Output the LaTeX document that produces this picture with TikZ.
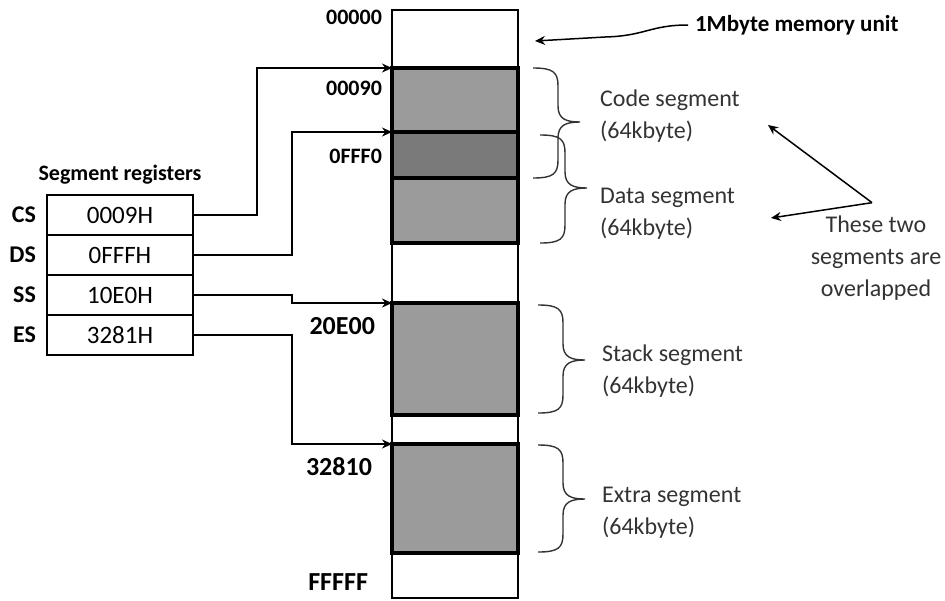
\documentclass[tikz,border=0pt]{standalone}
\usepackage{fontspec}
\setmainfont{Carlito}
\usetikzlibrary{positioning,arrows.meta}
\definecolor{seggray}{HTML}{9B9B9B}
\definecolor{ovlgray}{HTML}{7A7A7A}
\definecolor{txtgray}{HTML}{333333}

\begin{document}
\begin{tikzpicture}[x=0.5pt,y=-0.5pt,>={Stealth[length=5pt,width=4.5pt]},
  reg/.style={draw,line width=0.9pt,outer sep=0pt,minimum width=73pt,minimum height=20pt,inner sep=0pt,font=\fontsize{12.5}{14}\selectfont},
  regname/.style={font=\fontsize{12}{14}\selectfont\bfseries},
  addr/.style={anchor=east,font=\fontsize{11}{14}\selectfont\bfseries},
  segtext/.style={anchor=west,align=left,text=txtgray,font=\fontsize{12}{16}\selectfont},
  link/.style={->,line width=0.75pt}]
  \useasboundingbox (0,0) rectangle (945,600);

  % memory column
  \fill[seggray] (392,68) rectangle (518,243);
  \fill[ovlgray] (392,132) rectangle (518,178);
  \fill[seggray] (392,303) rectangle (518,415);
  \fill[seggray] (392,444) rectangle (518,553);
  \draw[line width=1pt] (392,10) rectangle (518,598);
  \draw[line width=1.6pt] (392,68) rectangle (518,243);
  \draw[line width=1.6pt] (392,303) rectangle (518,415);
  \draw[line width=1.6pt] (392,444) rectangle (518,553);
  \draw[line width=1.6pt] (392,132) -- (518,132) (392,178) -- (518,178);
  \coordinate (cstop) at (392,68);
  \coordinate (dstop) at (392,132);
  \coordinate (sstop) at (392,303);
  \coordinate (estop) at (392,444);
  \coordinate (memcol) at (535,41);

  % addresses
  \node[addr] (a0) at (389,17) {00000};
  \node[addr] (a1) at (389,88) {00090};
  \node[addr] (a2) at (389,156) {0FFF0};
  \node[addr,font=\fontsize{13}{14}\selectfont\bfseries] (a3) at (382,326) {20E00};
  \node[addr,font=\fontsize{13}{14}\selectfont\bfseries] (a4) at (379,467) {32810};
  \node[addr,font=\fontsize{13}{14}\selectfont\bfseries] (a5) at (375,582) {FFFFF};

  % segment registers
  \node[reg] (cs) at (120,215) {0009H};
  \node[reg,below=0pt of cs] (ds) {0FFFH};
  \node[reg,below=0pt of ds] (ss) {10E0H};
  \node[reg,below=0pt of ss] (es) {3281H};
  \node[regname,left=2pt of cs] {CS};
  \node[regname,left=2pt of ds] {DS};
  \node[regname,left=2pt of ss] {SS};
  \node[regname,left=2pt of es] {ES};
  \node[font=\fontsize{11}{12}\selectfont\bfseries,above=2pt of cs] (title) {Segment registers};

  \draw[link] (cs.east) -- ++(64,0) |- (cstop);
  \draw[link] (ds.east) -- ++(99,0) |- (dstop);
  \draw[link] (ss.east) -- ++(99,0) |- (sstop);
  \draw[link] (es.east) -- ++(99,0) |- (estop);

  % braces
  \foreach \xs/\t/\b/\m in {533/68/178/122, 540/135/243/188, 538/305/413/360, 538/445/552/499}
    \draw[txtgray,line width=0.7pt] (\xs,\t) .. controls ({\xs+20},\t) and ({\xs+25},{\t+4}) .. ({\xs+25},{\t+18})
      -- ({\xs+25},{\m-16}) .. controls ({\xs+25},{\m-3}) and ({\xs+33},\m) .. ({\xs+47},\m)
      .. controls ({\xs+33},\m) and ({\xs+25},{\m+3}) .. ({\xs+25},{\m+16})
      -- ({\xs+25},{\b-18}) .. controls ({\xs+25},{\b-4}) and ({\xs+20},\b) .. (\xs,\b);

  \node[segtext] (code) at (593,116) {Code segment\\(64kbyte)};
  \node[segtext] (data) at (593,214) {Data segment\\(64kbyte)};
  \node[segtext] (stack) at (595,371) {Stack segment\\(64kbyte)};
  \node[segtext] (extra) at (595,513) {Extra segment\\(64kbyte)};

  % notes
  \node[font=\fontsize{11.5}{14}\selectfont\bfseries,anchor=west] (mem) at (688,25) {1Mbyte memory unit};
  \draw[link] (mem.west) .. controls (650,25) and (645,36) .. (605,37) -- (memcol);
  \node[align=center,text=txtgray,font=\fontsize{12}{16}\selectfont] (ovl) at (876,258) {These two\\segments are\\overlapped};
  \coordinate (codetip) at (768,125);
  \coordinate (datatip) at (771,218);
  \draw[link] ([xshift=-2pt,yshift=3pt]ovl.north) -- (codetip);
  \draw[link] ([xshift=-2pt,yshift=3pt]ovl.north) -- (datatip);
\end{tikzpicture}
\end{document}
